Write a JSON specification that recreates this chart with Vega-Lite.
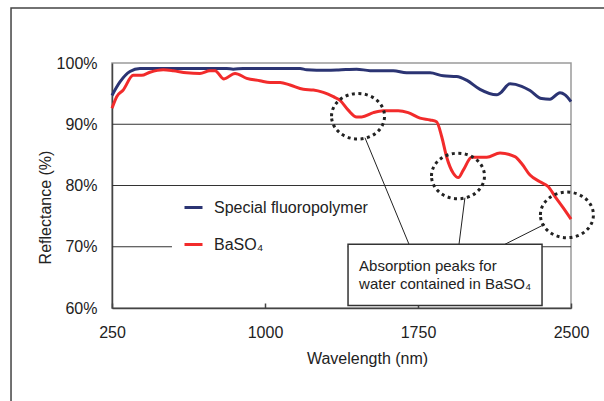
{
  "$schema": "https://vega.github.io/schema/vega-lite/v6.json",
  "width": 459,
  "height": 245,
  "autosize": "none",
  "padding": {"left": 112, "top": 63, "right": 33, "bottom": 93},
  "background": "white",
  "config": {
    "font": "Liberation Sans",
    "view": {"stroke": "#9a9a9a", "strokeWidth": 1.5},
    "axis": {"labelFont": "Liberation Sans", "titleFont": "Liberation Sans", "labelColor": "#222", "titleColor": "#222", "titleFontWeight": "normal", "domainColor": "#444", "domainWidth": 1.5}
  },
  "datasets": {
    "spectra": [
      {"series": "Special fluoropolymer", "wl": 250, "r": 94.7},
      {"series": "Special fluoropolymer", "wl": 289, "r": 96.9},
      {"series": "Special fluoropolymer", "wl": 338, "r": 98.6},
      {"series": "Special fluoropolymer", "wl": 387, "r": 99.1},
      {"series": "Special fluoropolymer", "wl": 436, "r": 99.1},
      {"series": "Special fluoropolymer", "wl": 812, "r": 99.1},
      {"series": "Special fluoropolymer", "wl": 844, "r": 99.0},
      {"series": "Special fluoropolymer", "wl": 893, "r": 99.1},
      {"series": "Special fluoropolymer", "wl": 1172, "r": 99.1},
      {"series": "Special fluoropolymer", "wl": 1204, "r": 98.9},
      {"series": "Special fluoropolymer", "wl": 1302, "r": 98.8},
      {"series": "Special fluoropolymer", "wl": 1360, "r": 98.85},
      {"series": "Special fluoropolymer", "wl": 1449, "r": 99.0},
      {"series": "Special fluoropolymer", "wl": 1515, "r": 98.75},
      {"series": "Special fluoropolymer", "wl": 1629, "r": 98.75},
      {"series": "Special fluoropolymer", "wl": 1694, "r": 98.4},
      {"series": "Special fluoropolymer", "wl": 1809, "r": 98.4},
      {"series": "Special fluoropolymer", "wl": 1874, "r": 97.9},
      {"series": "Special fluoropolymer", "wl": 1939, "r": 97.8},
      {"series": "Special fluoropolymer", "wl": 1988, "r": 97.2},
      {"series": "Special fluoropolymer", "wl": 2054, "r": 95.7},
      {"series": "Special fluoropolymer", "wl": 2135, "r": 94.8},
      {"series": "Special fluoropolymer", "wl": 2152, "r": 95.05},
      {"series": "Special fluoropolymer", "wl": 2201, "r": 96.6},
      {"series": "Special fluoropolymer", "wl": 2258, "r": 96.2},
      {"series": "Special fluoropolymer", "wl": 2299, "r": 95.5},
      {"series": "Special fluoropolymer", "wl": 2356, "r": 94.2},
      {"series": "Special fluoropolymer", "wl": 2397, "r": 94.1},
      {"series": "Special fluoropolymer", "wl": 2446, "r": 95.15},
      {"series": "Special fluoropolymer", "wl": 2471, "r": 94.8},
      {"series": "Special fluoropolymer", "wl": 2500, "r": 93.7},
      {"series": "BaSO₄", "wl": 250, "r": 92.6},
      {"series": "BaSO₄", "wl": 273, "r": 94.5},
      {"series": "BaSO₄", "wl": 305, "r": 95.6},
      {"series": "BaSO₄", "wl": 354, "r": 98.0},
      {"series": "BaSO₄", "wl": 395, "r": 98.0},
      {"series": "BaSO₄", "wl": 436, "r": 98.5},
      {"series": "BaSO₄", "wl": 501, "r": 98.9},
      {"series": "BaSO₄", "wl": 550, "r": 98.75},
      {"series": "BaSO₄", "wl": 616, "r": 98.4},
      {"series": "BaSO₄", "wl": 681, "r": 98.3},
      {"series": "BaSO₄", "wl": 730, "r": 98.75},
      {"series": "BaSO₄", "wl": 755, "r": 98.75},
      {"series": "BaSO₄", "wl": 799, "r": 97.4},
      {"series": "BaSO₄", "wl": 853, "r": 98.3},
      {"series": "BaSO₄", "wl": 910, "r": 97.5},
      {"series": "BaSO₄", "wl": 975, "r": 97.1},
      {"series": "BaSO₄", "wl": 1025, "r": 96.8},
      {"series": "BaSO₄", "wl": 1074, "r": 96.8},
      {"series": "BaSO₄", "wl": 1123, "r": 96.4},
      {"series": "BaSO₄", "wl": 1188, "r": 95.7},
      {"series": "BaSO₄", "wl": 1237, "r": 95.6},
      {"series": "BaSO₄", "wl": 1286, "r": 95.2},
      {"series": "BaSO₄", "wl": 1335, "r": 94.5},
      {"series": "BaSO₄", "wl": 1368, "r": 93.9},
      {"series": "BaSO₄", "wl": 1408, "r": 92.3},
      {"series": "BaSO₄", "wl": 1449, "r": 91.2},
      {"series": "BaSO₄", "wl": 1474, "r": 91.2},
      {"series": "BaSO₄", "wl": 1531, "r": 91.9},
      {"series": "BaSO₄", "wl": 1580, "r": 92.2},
      {"series": "BaSO₄", "wl": 1653, "r": 92.2},
      {"series": "BaSO₄", "wl": 1702, "r": 91.9},
      {"series": "BaSO₄", "wl": 1760, "r": 91.0},
      {"series": "BaSO₄", "wl": 1809, "r": 90.7},
      {"series": "BaSO₄", "wl": 1841, "r": 90.4},
      {"series": "BaSO₄", "wl": 1866, "r": 88.0},
      {"series": "BaSO₄", "wl": 1890, "r": 84.7},
      {"series": "BaSO₄", "wl": 1923, "r": 82.0},
      {"series": "BaSO₄", "wl": 1948, "r": 81.3},
      {"series": "BaSO₄", "wl": 1972, "r": 82.5},
      {"series": "BaSO₄", "wl": 2013, "r": 84.6},
      {"series": "BaSO₄", "wl": 2087, "r": 84.6},
      {"series": "BaSO₄", "wl": 2152, "r": 85.3},
      {"series": "BaSO₄", "wl": 2225, "r": 84.7},
      {"series": "BaSO₄", "wl": 2258, "r": 83.6},
      {"series": "BaSO₄", "wl": 2299, "r": 81.7},
      {"series": "BaSO₄", "wl": 2348, "r": 80.6},
      {"series": "BaSO₄", "wl": 2389, "r": 79.8},
      {"series": "BaSO₄", "wl": 2422, "r": 78.2},
      {"series": "BaSO₄", "wl": 2463, "r": 76.3},
      {"series": "BaSO₄", "wl": 2500, "r": 74.5}
    ],
    "grid": [
      {"y": 90, "x": 250, "x2": 2500},
      {"y": 80, "x": 250, "x2": 2500},
      {"y": 70, "x": 250, "x2": 544},
      {"y": 70, "x": 1405, "x2": 2500}
    ],
    "circles": [
      {"wl": 1456, "r": 91.3},
      {"wl": 1946, "r": 81.55},
      {"wl": 2480, "r": 75.2}
    ],
    "leaders": [
      {"x": 1706, "y": 70.4, "x2": 1490, "y2": 87.8},
      {"x": 1951, "y": 70.4, "x2": 1980, "y2": 78.0},
      {"x": 2176, "y": 70.4, "x2": 2373, "y2": 73.7}
    ],
    "box": [{"x": 1407, "x2": 2358, "y": 60.4, "y2": 70.4}],
    "notes": [
      {"text": "Absorption peaks for", "wl": 1461, "r": 66.9},
      {"text": "water contained in BaSO₄", "wl": 1461, "r": 63.9}
    ],
    "frame": [{"x": -245, "x2": 2800, "y": 40, "y2": 109}]
  },
  "layer": [
    {
      "data": {"name": "frame"},
      "mark": {"type": "rect", "fill": null, "stroke": "#444", "strokeWidth": 1.5},
      "encoding": {
        "x": {"field": "x", "type": "quantitative"},
        "x2": {"field": "x2"},
        "y": {"field": "y", "type": "quantitative"},
        "y2": {"field": "y2"}
      }
    },
    {
      "data": {"name": "grid"},
      "mark": {"type": "rule", "color": "#333", "strokeWidth": 1},
      "encoding": {
        "x": {"field": "x", "type": "quantitative"},
        "x2": {"field": "x2"},
        "y": {"field": "y", "type": "quantitative"}
      }
    },
    {
      "data": {"name": "spectra"},
      "mark": {"type": "line", "strokeWidth": 3, "strokeJoin": "round", "interpolate": "monotone"},
      "encoding": {
        "x": {
          "field": "wl", "type": "quantitative",
          "scale": {"domain": [250, 2500], "nice": false, "zero": false},
          "axis": {"values": [250, 1000, 1750, 2500], "format": "d", "labelFlush": false, "grid": false, "tickSize": -5, "tickColor": "#444", "tickWidth": 1.5, "labelFontSize": 16, "labelPadding": 21, "title": "Wavelength (nm)", "titleFontSize": 16, "titlePadding": 10, "titleX": 255, "titleAlign": "center"}
        },
        "y": {
          "field": "r", "type": "quantitative",
          "scale": {"domain": [60, 100], "nice": false, "zero": false},
          "axis": {"values": [60, 70, 80, 90, 100], "labelExpr": "datum.value + '%'", "grid": false, "ticks": false, "labelFontSize": 16, "labelPadding": 15, "title": "Reflectance (%)", "titleFontSize": 16, "titleX": -67, "titleY": 144, "titleAlign": "center", "titleBaseline": "middle"}
        },
        "color": {
          "field": "series", "type": "nominal",
          "scale": {"domain": ["Special fluoropolymer", "BaSO₄"], "range": ["#2b3473", "#f22b2b"]},
          "legend": {"title": null, "orient": "none", "legendX": 71, "legendY": 134, "symbolType": "stroke", "symbolSize": 324, "symbolStrokeWidth": 3, "labelFontSize": 16, "labelColor": "#222", "labelOffset": 10, "rowPadding": 18, "padding": 0}
        },
        "order": {"field": "wl", "type": "quantitative"}
      }
    },
    {
      "data": {"name": "circles"},
      "mark": {"type": "point", "shape": "M-1,0A1,0.86,0,1,1,1,0A1,0.86,0,1,1,-1,0Z", "size": 2809, "filled": false, "stroke": "#222", "strokeWidth": 3, "strokeDash": [3, 3.5], "opacity": 1},
      "encoding": {
        "x": {"field": "wl", "type": "quantitative"},
        "y": {"field": "r", "type": "quantitative"}
      }
    },
    {
      "data": {"name": "leaders"},
      "mark": {"type": "rule", "color": "#222", "strokeWidth": 1},
      "encoding": {
        "x": {"field": "x", "type": "quantitative"},
        "x2": {"field": "x2"},
        "y": {"field": "y", "type": "quantitative"},
        "y2": {"field": "y2"}
      }
    },
    {
      "data": {"name": "box"},
      "mark": {"type": "rect", "fill": "white", "stroke": "#333", "strokeWidth": 1.5},
      "encoding": {
        "x": {"field": "x", "type": "quantitative"},
        "x2": {"field": "x2"},
        "y": {"field": "y", "type": "quantitative"},
        "y2": {"field": "y2"}
      }
    },
    {
      "data": {"name": "notes"},
      "mark": {"type": "text", "align": "left", "baseline": "middle", "fontSize": 15, "color": "#222"},
      "encoding": {
        "x": {"field": "wl", "type": "quantitative"},
        "y": {"field": "r", "type": "quantitative"},
        "text": {"field": "text"}
      }
    }
  ]
}
